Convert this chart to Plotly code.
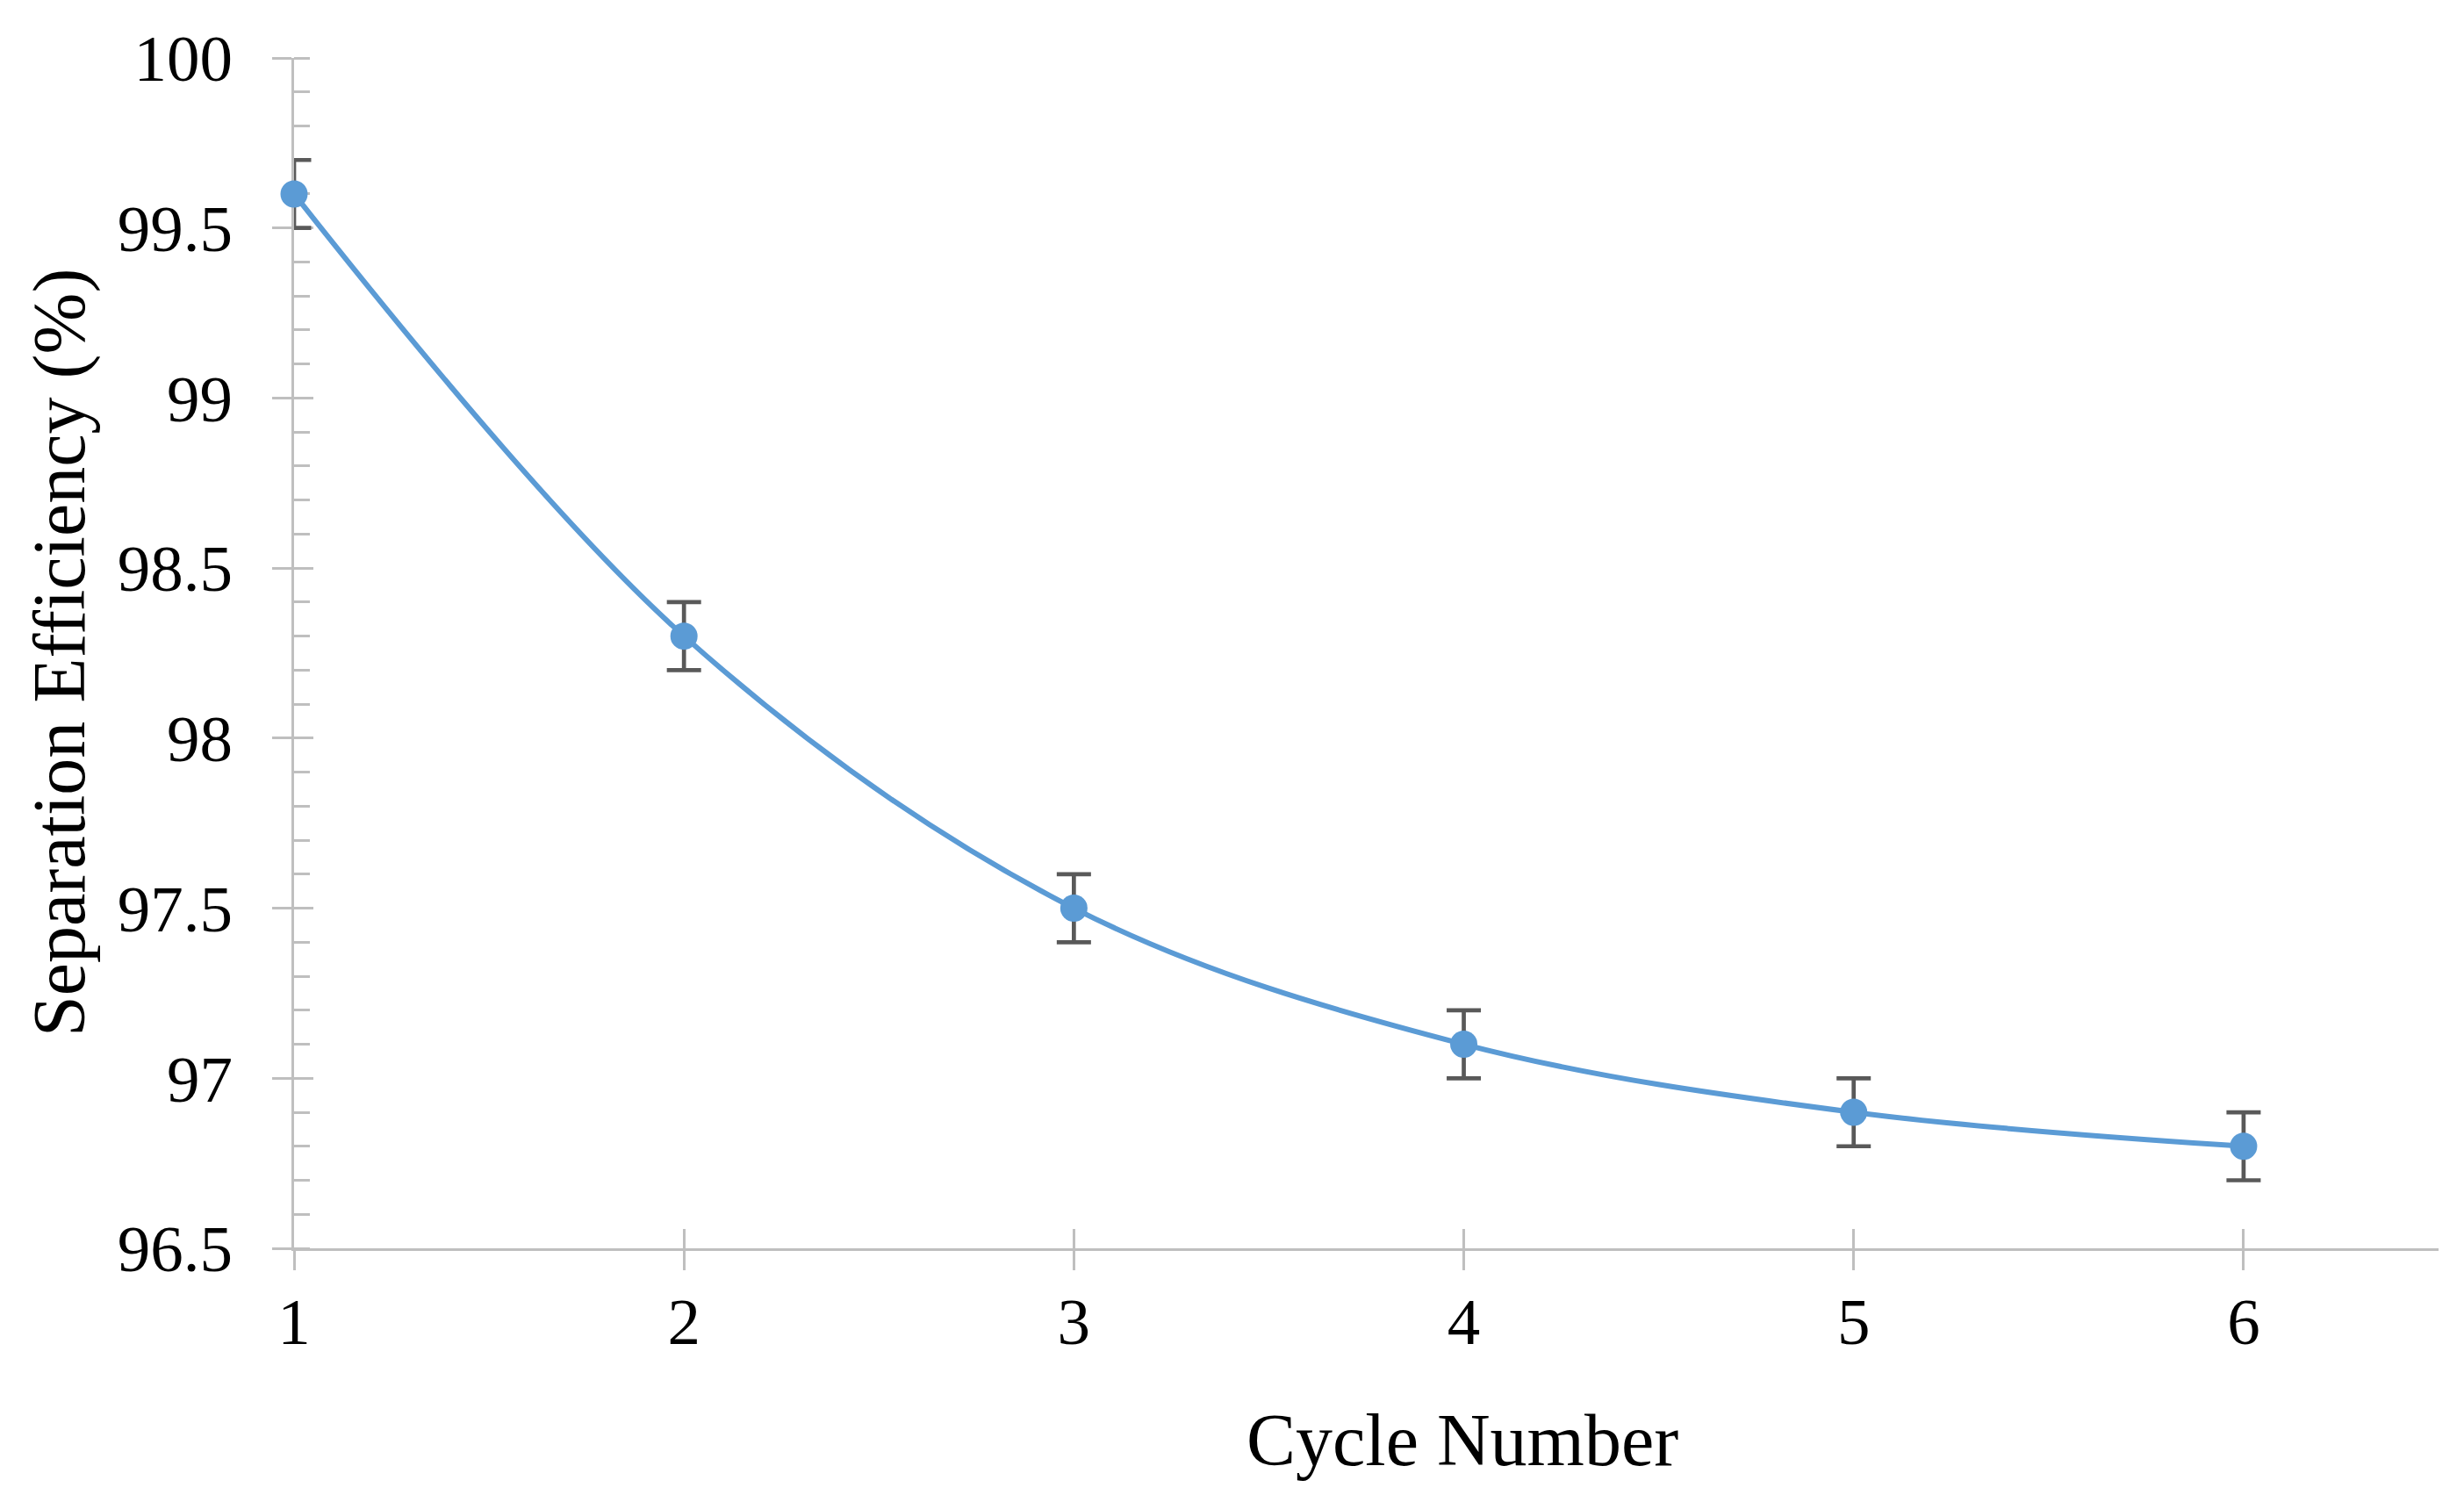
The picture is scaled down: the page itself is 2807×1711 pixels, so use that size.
import plotly.graph_objects as go

cycles = [1, 2, 3, 4, 5, 6]
efficiency = [99.6, 98.3, 97.5, 97.1, 96.9, 96.8]
error = [0.1, 0.1, 0.1, 0.1, 0.1, 0.1]
x_ticks = [1, 2, 3, 4, 5, 6]
y_ticks = [96.5, 97, 97.5, 98, 98.5, 99, 99.5, 100]
y_tick_text = ["96.5", "97", "97.5", "98", "98.5", "99", "99.5", "100"]

# page body has an 8px default margin; figure sized/placed to compensate
W, H = 2799, 1703
L, R, T, B = 327, 29, 58, 289
PW = W - L - R
PH = H - T - B
BLUE = "#5B9BD5"
ERR = "#595959"
AX = "#BFBFBF"
FONT = "Liberation Serif"

fig = go.Figure()

# line + error bars (clipped to plot area)
fig.add_trace(go.Scatter(
    x=cycles, y=efficiency, mode="lines",
    line=dict(color=BLUE, width=6, shape="spline", smoothing=1.0),
    error_y=dict(type="data", array=error, visible=True, color=ERR,
                 thickness=4.7, width=19.5),
    cliponaxis=True, showlegend=False, hoverinfo="skip"))

# markers (not clipped)
fig.add_trace(go.Scatter(
    x=cycles, y=efficiency, mode="markers",
    marker=dict(color=BLUE, size=31, line=dict(width=0)),
    cliponaxis=False, showlegend=False))

# invisible trace for overlay axes (inside half of crossing ticks)
fig.add_trace(go.Scatter(
    x=cycles, y=efficiency, mode="markers", xaxis="x2", yaxis="y2",
    marker=dict(size=1, opacity=0), showlegend=False, hoverinfo="skip"))

axis_common = dict(showgrid=False, zeroline=False, layer="below traces")

fig.update_layout(
    width=W, height=H,
    margin=dict(l=L, r=R, t=T, b=B),
    paper_bgcolor="white", plot_bgcolor="white",
    font=dict(family=FONT, color="black"),
    xaxis=dict(
        range=[1, 6.5], tickmode="array", tickvals=x_ticks,
        ticktext=[str(v) for v in x_ticks],
        ticks="outside", ticklen=22, tickwidth=3, tickcolor=AX,
        showline=True, linecolor=AX, linewidth=3,
        tickfont=dict(family=FONT, size=75, color="black"),
        ticklabelstandoff=-6,
        **axis_common),
    yaxis=dict(
        range=[96.5, 100], tickmode="array", tickvals=y_ticks,
        ticktext=y_tick_text,
        ticks="outside", ticklen=22, tickwidth=3, tickcolor=AX,
        showline=True, linecolor=AX, linewidth=3,
        tickfont=dict(family=FONT, size=75, color="black"),
        ticklabelstandoff=30,
        minor=dict(ticks="inside", dtick=0.1, tick0=96.5, ticklen=18,
                   tickwidth=3, tickcolor=AX),
        **axis_common),
    xaxis2=dict(
        range=[1, 6.5], overlaying="x", anchor="y2", tickmode="array",
        tickvals=x_ticks, showticklabels=False,
        ticks="inside", ticklen=22, tickwidth=3, tickcolor=AX,
        showline=False, **axis_common),
    yaxis2=dict(
        range=[96.5, 100], overlaying="y", anchor="x2", tickmode="array",
        tickvals=y_ticks, showticklabels=False,
        ticks="inside", ticklen=22, tickwidth=3, tickcolor=AX,
        showline=False, **axis_common),
    annotations=[
        dict(text="Cycle Number", xref="paper", yref="paper",
             x=(1658 - L) / PW, y=((H - B) - 1632) / PH,
             xanchor="center", yanchor="middle", showarrow=False,
             font=dict(family=FONT, size=84, color="black")),
        dict(text="Separation Efficiency (%)", xref="paper", yref="paper",
             x=(60 - L) / PW, y=0.5, textangle=-90,
             xanchor="center", yanchor="middle", showarrow=False,
             font=dict(family=FONT, size=84, color="black")),
    ],
)

fig.write_html("out.html")
